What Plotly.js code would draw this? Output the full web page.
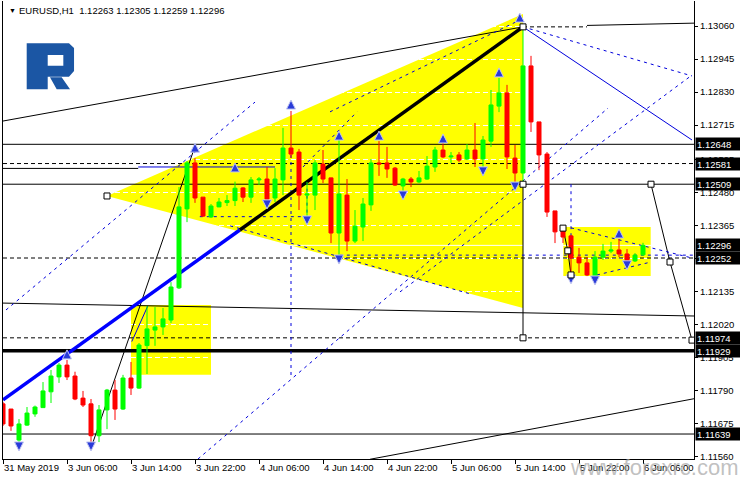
<!DOCTYPE html>
<html><head><meta charset="utf-8">
<script src="https://cdn.plot.ly/plotly-3.0.1.min.js"></script>
<style>html,body{margin:0;padding:0;background:#fff;}#chart{width:740px;height:480px;}</style>
</head><body><div id="chart"></div>
<script>
// ---- axis labels ----
const tickBars = [0, 8, 16, 24, 32, 40, 48, 56, 64, 72, 80];
const tickLabels = ["31 May 2019", "3 Jun 06:00", "3 Jun 14:00", "3 Jun 22:00", "4 Jun 06:00", "4 Jun 14:00",
  "4 Jun 22:00", "5 Jun 06:00", "5 Jun 14:00", "5 Jun 22:00", "6 Jun 06:00"];
const priceTicks = [1.11560, 1.11675, 1.11790, 1.11905, 1.12020, 1.12135, 1.12250, 1.12365, 1.12480,
  1.12595, 1.12715, 1.12830, 1.12945, 1.13060];
const hiddenTicks = [1.12250]; // fully covered by the 1.12252 price box
const priceBoxes = [1.12648, 1.12581, 1.12509, 1.12296, 1.12252, 1.11974, 1.11929, 1.11639];

// ---- EURUSD H1 candles ----
const open = [1.11744,1.11726,1.11618,1.11670,1.11709,1.11731,1.11786,1.11838,1.11879,1.11841,
  1.11764,1.11744,1.11633,1.11723,1.11792,1.11726,1.11834,1.11799,1.11947,1.12001,
  1.12012,1.12036,1.12148,1.12423,1.12583,1.12464,1.12395,1.12430,1.12445,1.12452,
  1.12496,1.12464,1.12524,1.12527,1.12461,1.12524,1.12635,1.12621,1.12471,1.12471,
  1.12579,1.12531,1.12339,1.12471,1.12311,1.12360,1.12437,1.12583,1.12583,1.12565,
  1.12503,1.12527,1.12517,1.12527,1.12569,1.12628,1.12604,1.12611,1.12597,1.12628,
  1.12597,1.12659,1.12781,1.12827,1.12600,1.12548,1.12921,1.12726,1.12614,1.12416,
  1.12353,1.12329,1.12255,1.12235,1.12189,1.12255,1.12276,1.12280,1.12266,1.12242,1.12263];
const high = [1.11751,1.11726,1.11691,1.11733,1.11738,1.11820,1.11862,1.11886,1.11897,1.11856,
  1.11789,1.11761,1.11740,1.11796,1.11827,1.11845,1.11890,1.11956,1.12085,1.12081,
  1.12078,1.12168,1.12499,1.12590,1.12600,1.12464,1.12440,1.12461,1.12471,1.12518,
  1.12499,1.12534,1.12534,1.12569,1.12565,1.12705,1.12764,1.12632,1.12517,1.12593,
  1.12628,1.12532,1.12663,1.12527,1.12419,1.12461,1.12597,1.12659,1.12639,1.12569,
  1.12531,1.12534,1.12555,1.12607,1.12639,1.12653,1.12621,1.12621,1.12649,1.12722,
  1.12677,1.12837,1.12879,1.12855,1.12646,1.13060,1.12956,1.12726,1.12621,1.12416,
  1.12356,1.12332,1.12287,1.12255,1.12276,1.12301,1.12308,1.12318,1.12283,1.12269,1.12305];
const low = [1.11667,1.11650,1.11597,1.11667,1.11699,1.11730,1.11747,1.11817,1.11827,1.11757,
  1.11733,1.11595,1.11611,1.11656,1.11688,1.11723,1.11775,1.11796,1.11848,1.11946,
  1.11984,1.12026,1.12144,1.12377,1.12444,1.12395,1.12391,1.12429,1.12433,1.12433,
  1.12447,1.12444,1.12506,1.12444,1.12447,1.12471,1.12600,1.12419,1.12391,1.12419,
  1.12513,1.12304,1.12255,1.12276,1.12304,1.12311,1.12416,1.12538,1.12531,1.12503,
  1.12478,1.12499,1.12513,1.12524,1.12552,1.12600,1.12583,1.12586,1.12593,1.12569,
  1.12565,1.12639,1.12760,1.12562,1.12517,1.12509,1.12691,1.12558,1.12395,1.12304,
  1.12304,1.12193,1.12200,1.12189,1.12186,1.12245,1.12269,1.12255,1.12235,1.12238,1.12259];
const close = [1.11674,1.11667,1.11674,1.11712,1.11733,1.11789,1.11841,1.11879,1.11838,1.11761,
  1.11740,1.11633,1.11723,1.11792,1.11726,1.11834,1.11799,1.11949,1.12005,1.12012,
  1.12040,1.12151,1.12430,1.12583,1.12461,1.12398,1.12433,1.12447,1.12452,1.12495,
  1.12464,1.12524,1.12527,1.12457,1.12527,1.12635,1.12614,1.12471,1.12475,1.12583,
  1.12527,1.12339,1.12475,1.12311,1.12363,1.12440,1.12583,1.12579,1.12562,1.12506,
  1.12527,1.12517,1.12531,1.12572,1.12628,1.12604,1.12607,1.12593,1.12628,1.12597,
  1.12663,1.12785,1.12827,1.12604,1.12548,1.12921,1.12726,1.12611,1.12412,1.12343,
  1.12325,1.12252,1.12235,1.12193,1.12255,1.12276,1.12280,1.12266,1.12242,1.12262,1.12296];
const bars = open.map((_, i) => i);

// ---- fractal arrows ----
const upBars = [8, 24, 29, 36, 42, 47, 55, 62, 64.6, 77];
const upPrices = [1.11932, 1.12652, 1.12583, 1.12802, 1.12694, 1.12694, 1.12684, 1.12914, 1.13105, 1.12353];
const downBars = [2, 11, 33, 38, 42, 50, 60, 64, 71, 74, 78];
const downPrices = [1.11580, 1.11580, 1.12423, 1.12367, 1.12231, 1.12454, 1.12538, 1.12485, 1.12162, 1.12158, 1.12211];

// ---- anchor squares ----
const anchorBars = [13, 65, 65, 65, 81, 83.375, 86.125, 70, 70.6, 71];
const anchorPrices = [1.12468, 1.13057, 1.12509, 1.11974, 1.12509, 1.12238, 1.11966, 1.12356, 1.12277, 1.12193];

// ---- yellow areas ----
const triBars = [13, 65, 65];
const triPrices = [1.12468, 1.13102, 1.12078];
const boxABars = [16, 26], boxAPrices = [1.11845, 1.12088];
const boxBBars = [70.04, 80.96], boxBPrices = [1.12189, 1.12360];

// ---- horizontal levels ----
const levelPrices = [1.12648, 1.12581, 1.12509, 1.12252, 1.11974, 1.11929, 1.11639];
const levelKinds = ["solid", "dash", "solid", "dash", "dash", "thick", "solid"];

// ---- trend lines [bar0, price0, bar1, price1] ----
const blackLines = [
  [0, 1.12729, 65, 1.13057], [73, 1.13062, 86.4, 1.13070], [0, 1.12095, 86.4, 1.12050],
  [45.875, 1.11551, 86.4, 1.11762], [11.06, 1.11595, 23.75, 1.12621], [0, 1.12564, 16.9, 1.12564],
  [65, 1.12509, 65, 1.11974]];
const blackDashed = [[65, 1.13057, 73, 1.13057]];
const rightDropBars = [81, 83.375, 86.125], rightDropPrices = [1.12509, 1.12238, 1.11966];
const smallDropBars = [70, 70.6, 71], smallDropPrices = [1.12356, 1.12277, 1.12193];
const mainTrend = [0, 1.11758, 65, 1.13057];
const mainTrendSplitBar = 29.6;
const blueSolid = [[65, 1.13057, 86.125, 1.12663], [16.9, 1.12569, 34, 1.12569], [16.1, 1.11961, 18.1, 1.12085]];
const blueDashed = [
  [0.375, 1.12071, 31.5, 1.12795], [24.375, 1.11552, 75.625, 1.12774], [49.625, 1.12134, 86.125, 1.12889],
  [65, 1.13057, 86.125, 1.12886], [40.875, 1.12761, 64.625, 1.13081], [37.5, 1.12569, 44.25, 1.12761],
  [24.6, 1.12396, 38, 1.12396], [38, 1.12518, 38, 1.12396], [28.4, 1.12364, 58.4, 1.12127],
  [36, 1.12635, 36, 1.11834], [71, 1.12509, 71, 1.12252], [42.1, 1.12262, 86.4, 1.12262],
  [71, 1.12357, 86.125, 1.12252], [74.25, 1.12193, 81, 1.12238]];

const FONT = "Liberation Sans, Arial, sans-serif";
const shapes = [];
function seg(s, color, width, dash, layer) {
  shapes.push({type: "line", xref: "x", yref: "y", x0: s[0], y0: s[1], x1: s[2], y1: s[3],
    line: {color: color, width: width, dash: dash || "solid"}, layer: layer || "between"});
}
// yellow (below grid)
shapes.push({type: "path", xref: "x", yref: "y", layer: "below", fillcolor: "#ffff00", line: {width: 0},
  path: "M" + triBars[0] + "," + triPrices[0] + " L" + triBars[1] + "," + triPrices[1] + " L" + triBars[2] + "," + triPrices[2] + " Z"});
shapes.push({type: "rect", xref: "x", yref: "y", layer: "below", fillcolor: "#ffff00", line: {width: 0},
  x0: boxABars[0], x1: boxABars[1], y0: boxAPrices[0], y1: boxAPrices[1]});
shapes.push({type: "rect", xref: "x", yref: "y", layer: "below", fillcolor: "#ffff00", line: {width: 0},
  x0: boxBBars[0], x1: boxBBars[1], y0: boxBPrices[0], y1: boxBPrices[1]});
// bid line (white)
seg([0, close[close.length - 1], 86.4, close[close.length - 1]], "#ffffff", 1, "solid");
// levels
levelPrices.forEach((p, i) => {
  const k = levelKinds[i];
  seg([0, p, 86.4, p], "#000000", k === "thick" ? 3.5 : 1, k === "dash" ? "4px,3px" : "solid");
});
blackLines.forEach(s => seg(s, "#000000", 1));
blackDashed.forEach(s => seg(s, "#000000", 1, "4px,3px"));
for (let i = 0; i < rightDropBars.length - 1; i++) seg([rightDropBars[i], rightDropPrices[i], rightDropBars[i + 1], rightDropPrices[i + 1]], "#000000", 1);
for (let i = 0; i < smallDropBars.length - 1; i++) seg([smallDropBars[i], smallDropPrices[i], smallDropBars[i + 1], smallDropPrices[i + 1]], "#000000", 1);
blueSolid.forEach(s => seg(s, "#0000dd", 1));
blueDashed.forEach(s => seg(s, "#0000dd", 1, "3px,4px"));
// main trend line: blue part then black part
const t = (mainTrendSplitBar - mainTrend[0]) / (mainTrend[2] - mainTrend[0]);
const splitPrice = mainTrend[1] + t * (mainTrend[3] - mainTrend[1]);
seg([mainTrend[0], mainTrend[1], mainTrendSplitBar, splitPrice], "#0000ff", 3.5);
seg([mainTrendSplitBar, splitPrice, mainTrend[2], mainTrend[3]], "#000000", 3.5);
// logo (paper coordinates)
shapes.push({type: "path", xref: "paper", yref: "paper", layer: "above", fillcolor: "#1b56a4", line: {width: 0},
  path: "M0.0343,0.9077 L0.0955,0.9077 L0.1028,0.8974 L0.1028,0.8472 L0.0955,0.8347 L0.0647,0.8347 L0.0647,0.8072 L0.0343,0.8072 Z " +
        "M0.0647,0.8821 L0.0647,0.8587 L0.0873,0.8587 L0.0873,0.8821 Z " +
        "M0.0680,0.8334 L0.0849,0.8334 L0.0970,0.8072 L0.0777,0.8072 Z"});

const annotations = priceBoxes.map(p => ({
  xref: "paper", yref: "y", x: 1, y: p, xanchor: "left", yanchor: "middle", xshift: 1,
  text: p.toFixed(5), showarrow: false, bgcolor: "#000000", borderpad: 1, width: 42, height: 10, align: "left",
  font: {family: FONT, size: 9.5, color: "#ffffff"}
}));
annotations.push({xref: "paper", yref: "paper", x: 0.0203, y: 0.9803, xanchor: "left", yanchor: "middle",
  text: "EURUSD,H1&nbsp; " + [open[80], high[80], low[80], close[80]].map(v => v.toFixed(5)).join(" "),
  showarrow: false, font: {family: FONT, size: 9.5, color: "#000000"}});
annotations.push({xref: "paper", yref: "paper", x: 0.0065, y: 0.9803, xanchor: "left", yanchor: "middle",
  text: "▼", showarrow: false, font: {family: FONT, size: 7, color: "#000000"}});
annotations.push({xref: "paper", yref: "paper", x: 0.8177, y: -0.0185, xanchor: "left", yanchor: "middle",
  text: "www.forexrc.com", showarrow: false, font: {family: FONT, size: 22, color: "rgba(165,165,165,0.7)"}});

const traces = [
  {type: "candlestick", x: bars, open: open, high: high, low: low, close: close, hoverinfo: "none",
    increasing: {line: {color: "#00ff00", width: 1}, fillcolor: "#00ff00"},
    decreasing: {line: {color: "#ff0000", width: 1}, fillcolor: "#ff0000"},
    whiskerwidth: 0, showlegend: false},
  {type: "scatter", mode: "markers", x: upBars, y: upPrices, hoverinfo: "none", showlegend: false,
    marker: {symbol: "arrow-up", size: 9, color: "#2a3bd8", line: {color: "#c4c8f2", width: 1}}},
  {type: "scatter", mode: "markers", x: downBars, y: downPrices, hoverinfo: "none", showlegend: false,
    marker: {symbol: "arrow-down", size: 9, color: "#2a3bd8", line: {color: "#c4c8f2", width: 1}}},
  {type: "scatter", mode: "markers", x: anchorBars, y: anchorPrices, hoverinfo: "none", showlegend: false,
    marker: {symbol: "square", size: 6, color: "#ffffff", line: {color: "#000000", width: 1}}}
];

const layout = {
  width: 740, height: 480, autosize: false,
  margin: {l: 3, r: 46, t: 1, b: 21, pad: 0},
  paper_bgcolor: "#ffffff", plot_bgcolor: "#ffffff",
  showlegend: false, boxgap: 0.5, boxgroupgap: 0,
  font: {family: FONT, size: 9.5, color: "#000000"},
  xaxis: {range: [0, 86.375], tickvals: tickBars, ticktext: tickLabels, ticks: "outside", ticklen: 4,
    tickcolor: "#000", showline: true, linecolor: "#000", linewidth: 1, showgrid: false, zeroline: false,
    rangeslider: {visible: false}, ticklabelposition: "outside right", fixedrange: true,
    tickfont: {family: FONT, size: 9.5, color: "#000"}},
  yaxis: {side: "right", range: [1.1155199, 1.1314707], tickvals: priceTicks,
    ticktext: priceTicks.map(v => hiddenTicks.includes(v) ? "" : v.toFixed(5)),
    ticks: "outside", ticklen: 3, tickcolor: "#000", showline: true, linecolor: "#000", linewidth: 1, mirror: true,
    showgrid: true, gridcolor: "#ffffff", griddash: "5px,3px", gridwidth: 1, zeroline: false, fixedrange: true,
    tickfont: {family: FONT, size: 9.5, color: "#000"}},
  shapes: shapes, annotations: annotations
};
Plotly.newPlot("chart", traces, layout, {displayModeBar: false, staticPlot: true});
</script>
</body></html>
